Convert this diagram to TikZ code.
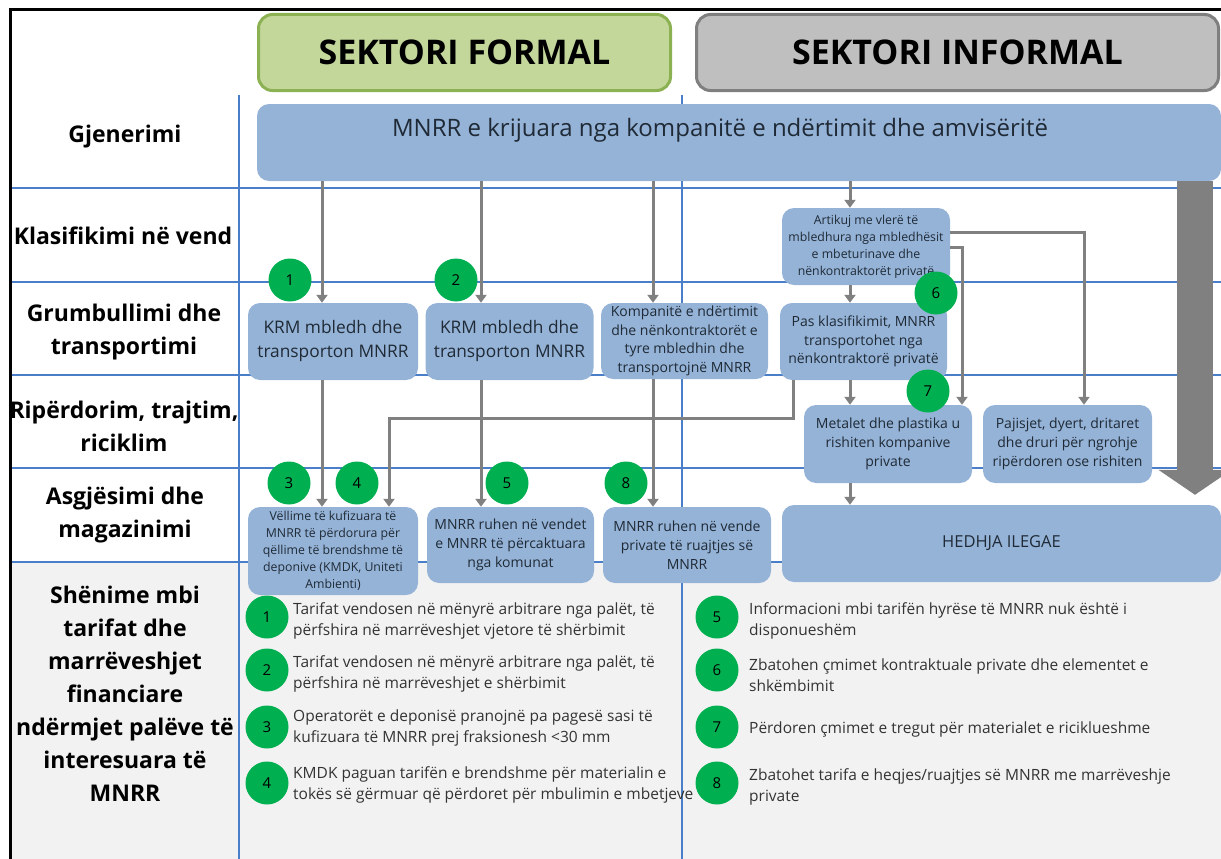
\documentclass[tikz,border=0pt]{standalone}
\usepackage{fontspec}
\setmainfont{Open Sans}
\usetikzlibrary{arrows.meta}
\definecolor{boxBlue}{HTML}{95B3D7}
\definecolor{gridBlue}{HTML}{4A7EC8}
\definecolor{formalFill}{HTML}{C4D79B}
\definecolor{formalLine}{HTML}{8CB152}
\definecolor{informalFill}{HTML}{BFBFBF}
\definecolor{informalLine}{HTML}{7F7F7F}
\definecolor{badgeGreen}{HTML}{00B050}
\definecolor{arrowGray}{HTML}{808080}
\definecolor{noteBack}{HTML}{F2F2F2}
\definecolor{textDark}{HTML}{1F2A36}
\definecolor{noteText}{HTML}{333333}
\newcommand{\headFont}{\bfseries\fontsize{34}{40}\selectfont}
\newcommand{\genFont}{\fontsize{24}{28}\selectfont}
\newcommand{\stageFont}{\bfseries\fontsize{23}{33}\selectfont}
\newcommand{\krmFont}{\fontsize{17.3}{24}\selectfont}
\newcommand{\boxFont}{\fontsize{14}{18.7}\selectfont}
\newcommand{\smallBoxFont}{\fontsize{12.3}{17}\selectfont}
\newcommand{\hedhjaFont}{\fontsize{16.5}{20}\selectfont}
\newcommand{\badgeFont}{\fontsize{15}{18}\selectfont}
\newcommand{\noteFont}{\fontsize{15.5}{21}\selectfont}
\newcommand{\gridLeft}{10}
\newcommand{\gridRight}{1221}
\newcommand{\gridBottom}{859}

\begin{document}
\begin{tikzpicture}[x=1pt,y=-1pt,
    lane/.style={draw=gridBlue,line width=2.2pt},
    stage/.style={font=\stageFont,align=center},
    flowbox/.style={fill=boxBlue,rounded corners=12pt,align=center,inner sep=0pt,text=textDark},
    badge/.style={circle,fill=badgeGreen,minimum size=43pt,inner sep=0pt,font=\badgeFont},
    arr/.style={draw=arrowGray,line width=3pt,-{Triangle[width=11pt,length=8pt]}},
    bigarr/.style={draw=arrowGray,line width=36pt,-{Triangle[width=72pt,length=25pt]}},
    note/.style={anchor=west,align=left,inner sep=0pt,font=\noteFont,text=noteText}]
\useasboundingbox (0,0) rectangle (1221,859);
% grey notes band
\fill[noteBack] (\gridLeft,562) rectangle (\gridRight,\gridBottom);
% swimlane grid
\foreach \y in {188,282,375,468,562}
    \draw[lane] (\gridLeft,\y) -- (\gridRight,\y);
\foreach \x in {239,682}
    \draw[lane] (\x,95) -- (\x,\gridBottom);
\draw[line width=3pt] (\gridLeft,\gridBottom) -- (\gridLeft,10) -- (\gridRight,10);

% sector headers
\node[draw=formalLine,fill=formalFill,line width=3pt,rounded corners=14pt,
      minimum width=412pt,minimum height=76pt,font=\headFont] (formal) at (464.5,52.5) {SEKTORI FORMAL};
\node[draw=informalLine,fill=informalFill,line width=3pt,rounded corners=14pt,
      minimum width=522pt,minimum height=76pt,font=\headFont] (informal) at (957.5,52.5) {SEKTORI INFORMAL};

% stage labels
\node[stage] (lblGen) at (125,137) {Gjenerimi};
\node[stage] (lblKlas) at (123,236) {Klasifikimi në vend};
\node[stage] (lblGrum) at (124,332.5) {Grumbullimi dhe\\transportimi};
\node[stage] (lblRip) at (124,426.5) {Ripërdorim, trajtim,\\riciklim};
\node[stage] (lblAsg) at (125,515.5) {Asgjësimi dhe\\magazinimi};
\node[stage] (lblShen) at (125,694) {Shënime mbi\\tarifat dhe\\marrëveshjet\\financiare\\ndërmjet palëve të\\interesuara të\\MNRR};

% flow boxes
\node[flowbox,minimum width=964pt,minimum height=77pt] (gen) at (739,142.5) {};
\node[font=\genFont,text=textDark] (genText) at (720,130) {MNRR e krijuara nga kompanitë e ndërtimit dhe amvisëritë};
\node[flowbox,minimum width=170pt,minimum height=77pt,font=\krmFont] (krmA) at (333,341.5) {KRM mbledh dhe\\transporton MNRR};
\node[flowbox,minimum width=168pt,minimum height=77pt,font=\krmFont] (krmB) at (509.5,341.5) {KRM mbledh dhe\\transporton MNRR};
\node[flowbox,minimum width=167pt,minimum height=76pt,font=\boxFont] (kompani) at (684.5,341) {Kompanitë e ndërtimit\\dhe nënkontraktorët e\\tyre mbledhin dhe\\transportojnë MNRR};
\node[flowbox,minimum width=168pt,minimum height=77pt,font=\smallBoxFont] (artikuj) at (866,246.5) {Artikuj me vlerë të\\mbledhura nga mbledhësit\\e mbeturinave dhe\\nënkontraktorët privatë};
\node[flowbox,minimum width=167pt,minimum height=77pt,font=\boxFont] (pas) at (863.5,341.5) {Pas klasifikimit, MNRR\\transportohet nga\\nënkontraktorë privatë};
\node[flowbox,minimum width=168pt,minimum height=78pt,font=\boxFont] (metalet) at (888,444) {Metalet dhe plastika u\\rishiten kompanive\\private};
\node[flowbox,minimum width=169pt,minimum height=78pt,font=\boxFont] (pajisjet) at (1067.5,444) {Pajisjet, dyert, dritaret\\dhe druri për ngrohje\\ripërdoren ose rishiten};
\node[flowbox,minimum width=170pt,minimum height=88pt,font=\smallBoxFont] (vellime) at (333,551) {Vëllime të kufizuara të\\MNRR të përdorura për\\qëllime të brendshme të\\deponive (KMDK, Uniteti\\Ambienti)};
\node[flowbox,minimum width=167pt,minimum height=76pt,font=\boxFont] (ruhenKom) at (510.5,545) {MNRR ruhen në vendet\\e MNRR të përcaktuara\\nga komunat};
\node[flowbox,minimum width=168pt,minimum height=76pt,font=\boxFont] (ruhenPriv) at (687,545) {MNRR ruhen në vende\\private të ruajtjes së\\MNRR};
\node[flowbox,minimum width=439pt,minimum height=77pt,font=\hedhjaFont] (hedhja) at (1001.5,543.5) {HEDHJA ILEGAE};

% arrow columns and bends
\coordinate (colA) at (322,0);
\coordinate (colB) at (481,0);
\coordinate (colC) at (653,0);
\coordinate (colD) at (850,0);
\coordinate (colE) at (793,0);
\coordinate (colBig) at (1195,0);
\coordinate (turnA) at (389,418);
\coordinate (turnC) at (962,247);
\coordinate (turnD) at (1084,232);

\draw[bigarr,shorten >=10pt] (gen.south -| colBig) -- (hedhja.north -| colBig);
\draw[arr] (gen.south -| colA) -- (krmA.north -| colA);
\draw[arr] (gen.south -| colB) -- (krmB.north -| colB);
\draw[arr] (gen.south -| colC) -- (kompani.north -| colC);
\draw[arr] (gen.south -| colD) -- (artikuj.north -| colD);
\draw[arr] (krmA.south -| colA) -- (vellime.north -| colA);
\draw[arr] (krmB.south -| colB) -- (ruhenKom.north -| colB);
\draw[arr] (kompani.south -| colC) -- (ruhenPriv.north -| colC);
\draw[arr] (artikuj.south -| colD) -- (pas.north -| colD);
\draw[arr] (pas.south -| colD) -- (metalet.north -| colD);
\draw[arr] (metalet.south -| colD) -- (hedhja.north -| colD);
\draw[arr] (pas.south -| colE) |- (turnA) -- (vellime.north -| turnA);
\draw[arr] (artikuj.east |- turnC) -| (metalet.north -| turnC);
\draw[arr] (artikuj.east |- turnD) -| (pajisjet.north -| turnD);

% numbered badges on the flow
\node[badge] (c1) at (290,280) {1};
\node[badge] (c2) at (456,280) {2};
\node[badge] (c3) at (289,483) {3};
\node[badge] (c4) at (357,483) {4};
\node[badge] (c5) at (507,483) {5};
\node[badge] (c8) at (626,483) {8};
\node[badge] (c6) at (936,293) {6};
\node[badge] (c7) at (928,391) {7};

% notes on fees
\node[badge] (n1) at (267,617) {1};
\node[badge] (n2) at (267,670) {2};
\node[badge] (n3) at (267,727) {3};
\node[badge] (n4) at (267,783) {4};
\node[badge] (n5) at (717,617) {5};
\node[badge] (n6) at (717,670) {6};
\node[badge] (n7) at (717,727) {7};
\node[badge] (n8) at (717,783) {8};
\node[note] (t1) at (293,621) {Tarifat vendosen në mënyrë arbitrare nga palët, të\\përfshira në marrëveshjet vjetore të shërbimit};
\node[note] (t2) at (293,673.5) {Tarifat vendosen në mënyrë arbitrare nga palët, të\\përfshira në marrëveshjet e shërbimit};
\node[note] (t3) at (293,728) {Operatorët e deponisë pranojnë pa pagesë sasi të\\kufizuara të MNRR prej fraksionesh <30 mm};
\node[note] (t4) at (293,785) {KMDK paguan tarifën e brendshme për materialin e\\tokës së gërmuar që përdoret për mbulimin e mbetjeve};
\node[note] (t5) at (749,621) {Informacioni mbi tarifën hyrëse të MNRR nuk është i\\disponueshëm};
\node[note] (t6) at (749,675) {Zbatohen çmimet kontraktuale private dhe elementet e\\shkëmbimit};
\node[note] (t7) at (749,729) {Përdoren çmimet e tregut për materialet e riciklueshme};
\node[note] (t8) at (749,787) {Zbatohet tarifa e heqjes/ruajtjes së MNRR me marrëveshje\\private};
\end{tikzpicture}
\end{document}
